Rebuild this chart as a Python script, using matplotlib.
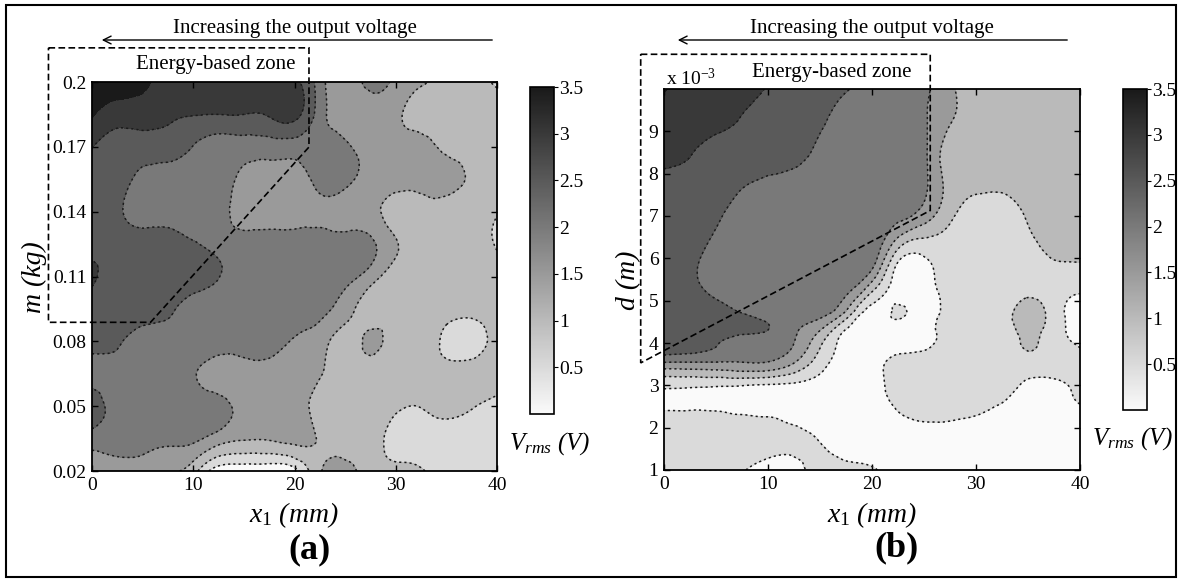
import numpy as np
import matplotlib
matplotlib.use('Agg')
import matplotlib.pyplot as plt
from matplotlib.colors import LinearSegmentedColormap, Normalize
from matplotlib.patches import Polygon, Rectangle
from matplotlib.tri import Triangulation, UniformTriRefiner, CubicTriInterpolator
import matplotlib.cm as cm

plt.rcParams['font.family'] = ['Liberation Serif', 'DejaVu Serif']
plt.rcParams['mathtext.fontset'] = 'custom'
plt.rcParams['mathtext.rm'] = 'Liberation Serif'
plt.rcParams['mathtext.it'] = 'Liberation Serif:italic'
plt.rcParams['mathtext.bf'] = 'Liberation Serif:bold'

W, H = 1178, 579

# panel (a): V_rms over x1 (mm) and m (kg), rows from top (m=0.2) to bottom
x1_a = [0, 2.5, 5, 7.5, 10, 12.5, 15, 17.5, 20, 22.5, 25, 27.5, 30, 32.5, 35, 37.5, 40]
m_a = [0.2, 0.185, 0.17, 0.155, 0.14, 0.125, 0.11, 0.095, 0.08, 0.065, 0.05, 0.035, 0.02]
vrms_a = [
    [3.75, 3.75, 3.6, 3.25, 3.25, 3.25, 3.25, 3.2, 3.1, 2.25, 1.6, 2.2, 1.85, 1.6, 1.25, 1.25, 0.9],
    [3.55, 3.25, 3.25, 3.1, 3.02, 3.0, 3.0, 3.05, 3.15, 2.25, 1.75, 1.75, 1.6, 1.25, 1.25, 1.25, 1.25],
    [3.02, 2.75, 2.75, 2.75, 2.48, 2.25, 2.25, 2.25, 2.25, 2.25, 2.1, 1.75, 1.75, 1.75, 1.35, 1.25, 1.25],
    [2.75, 2.7, 2.35, 2.25, 2.25, 2.25, 1.85, 1.75, 1.75, 2.2, 2.2, 1.75, 1.75, 1.75, 1.75, 1.4, 1.25],
    [2.75, 2.6, 2.25, 2.25, 2.25, 2.25, 1.7, 1.7, 1.7, 1.85, 1.7, 1.65, 1.25, 1.25, 1.2, 1.25, 1.05],
    [2.75, 2.75, 2.75, 2.75, 2.55, 2.35, 2.25, 2.25, 2.25, 2.25, 2.25, 2.1, 1.55, 1.25, 1.25, 1.25, 0.95],
    [3.1, 2.75, 2.75, 2.75, 2.75, 2.52, 2.25, 2.25, 2.25, 2.25, 2.15, 1.75, 1.25, 1.25, 1.25, 1.25, 1.25],
    [2.75, 2.75, 2.75, 2.6, 2.3, 2.25, 2.25, 2.25, 2.25, 2.1, 1.75, 1.25, 1.25, 1.25, 1.2, 1.15, 1.25],
    [2.75, 2.6, 2.25, 2.25, 2.25, 2.25, 2.25, 2.25, 1.95, 1.75, 1.25, 1.6, 1.25, 1.25, 0.85, 0.75, 1.25],
    [2.25, 2.25, 2.25, 2.25, 2.05, 1.75, 1.75, 1.75, 1.75, 1.55, 1.25, 1.25, 1.25, 1.25, 1.25, 1.25, 1.25],
    [2.8, 2.3, 2.25, 2.25, 2.25, 2.2, 1.8, 1.75, 1.75, 1.3, 1.25, 1.25, 1.1, 1.02, 1.2, 1.05, 0.85],
    [2.25, 2.25, 2.2, 2.1, 2.1, 1.75, 1.55, 1.55, 1.65, 1.45, 1.25, 1.2, 0.8, 0.75, 0.75, 0.75, 0.8],
    [1.75, 1.75, 1.75, 1.55, 1.2, 0.2, 0.15, 0.1, 0.3, 1.45, 1.7, 1.25, 1.2, 1.05, 0.75, 0.75, 0.75],
]

# panel (b): V_rms over x1 (mm) and d (x 1e-3 m), rows from top (d=10) to bottom
x1_b = [0, 2.5, 5, 7.5, 10, 12.5, 15, 17.5, 20, 22.5, 25, 27.5, 30, 32.5, 35, 37.5, 40]
d_b = [10, 9.25, 8.5, 7.75, 7.0, 6.25, 5.5, 4.75, 4.35, 4.0, 3.5, 3.0, 2.5, 1.75, 1.0]
vrms_b = [
    [3.55, 3.25, 3.25, 3.25, 2.95, 2.75, 2.75, 2.55, 2.25, 2.25, 2.1, 1.6, 1.25, 1.25, 1.25, 1.25, 1.25],
    [3.25, 3.25, 3.2, 2.95, 2.75, 2.75, 2.6, 2.25, 2.25, 2.25, 2.05, 1.55, 1.25, 1.25, 1.25, 1.25, 1.25],
    [3.25, 3.05, 2.75, 2.75, 2.75, 2.75, 2.35, 2.25, 2.25, 2.25, 2.1, 1.2, 1.25, 1.25, 1.25, 1.25, 1.25],
    [2.75, 2.75, 2.75, 2.55, 2.4, 2.25, 2.25, 2.25, 2.25, 2.25, 2.1, 1.3, 1.1, 1.1, 1.25, 1.25, 1.25],
    [2.75, 2.75, 2.6, 2.25, 2.25, 2.25, 2.25, 2.25, 2.25, 2.15, 1.75, 1.1, 0.8, 0.75, 1.05, 1.25, 1.25],
    [2.75, 2.7, 2.35, 2.25, 2.25, 2.25, 2.25, 2.25, 2.35, 1.05, 0.7, 0.75, 0.75, 0.75, 0.85, 1.15, 1.15],
    [2.75, 2.6, 2.3, 2.25, 2.25, 2.25, 2.25, 2.25, 1.6, 0.25, 0.25, 0.75, 0.75, 0.75, 0.75, 0.75, 0.75],
    [2.75, 2.75, 2.65, 2.45, 2.25, 2.25, 2.2, 1.5, 0.3, 0.56, 0.25, 0.75, 0.75, 0.75, 1.2, 0.75, 0.3],
    [2.75, 2.75, 2.75, 2.7, 2.52, 2.1, 1.6, 0.55, 0.25, 0.25, 0.3, 0.75, 0.75, 0.75, 1.15, 0.75, 0.3],
    [2.95, 2.8, 2.55, 2.25, 2.25, 2.0, 1.1, 0.3, 0.25, 0.25, 0.35, 0.75, 0.75, 0.75, 1.05, 0.75, 0.45],
    [1.86, 1.86, 1.88, 1.92, 1.9, 1.45, 0.7, 0.25, 0.3, 0.7, 0.75, 0.75, 0.75, 0.75, 0.8, 0.75, 0.6],
    [0.6, 0.58, 0.55, 0.52, 0.45, 0.4, 0.3, 0.25, 0.25, 0.75, 0.75, 0.75, 0.75, 0.7, 0.4, 0.4, 0.6],
    [0.45, 0.45, 0.43, 0.35, 0.3, 0.25, 0.25, 0.25, 0.25, 0.55, 0.7, 0.7, 0.6, 0.45, 0.3, 0.35, 0.48],
    [0.75, 0.75, 0.75, 0.75, 0.7, 0.6, 0.47, 0.25, 0.25, 0.25, 0.25, 0.25, 0.25, 0.25, 0.25, 0.25, 0.25],
    [0.75, 0.75, 0.75, 0.55, 0.25, 0.3, 0.7, 0.65, 0.55, 0.3, 0.25, 0.25, 0.25, 0.25, 0.25, 0.25, 0.25],
]

m_ticks = [0.02, 0.05, 0.08, 0.11, 0.14, 0.17, 0.2]
m_ticklabels = ['0.02', '0.05', '0.08', '0.11', '0.14', '0.17', '0.2']
d_ticks = [1, 2, 3, 4, 5, 6, 7, 8, 9]
x_ticks = [0, 10, 20, 30, 40]
cb_ticks = [0.5, 1, 1.5, 2, 2.5, 3, 3.5]
cb_ticklabels = ['0.5', '1', '1.5', '2', '2.5', '3', '3.5']
levels = [0, 0.5, 1.0, 1.5, 2.0, 2.5, 3.0, 3.5, 4.0]


def fx(px):
    return px / W


def fy(py):
    return 1 - py / H


def rect(l, t, r, b):
    return [fx(l), fy(b), (r - l) / W, (b - t) / H]


cmap = LinearSegmentedColormap.from_list('vgray', [(0.98, 0.98, 0.98), (0.1, 0.1, 0.1)])
norm = Normalize(0, 3.5)
fill_colors = [cmap(norm(lv)) for lv in levels[:-1]]
fill_levels = [-5] + levels[1:-1] + [9]


def grid_tri(xs, ys, zs):
    # triangulate the grid in index space, let matplotlib smooth it, map back
    Z = np.array(zs, dtype=float)
    ny, nx = Z.shape
    I, J = np.meshgrid(np.arange(nx, dtype=float), np.arange(ny, dtype=float))
    tris = []
    for j in range(ny - 1):
        for i in range(nx - 1):
            p = j * nx + i
            tris.append([p, p + 1, p + nx])
            tris.append([p + 1, p + nx + 1, p + nx])
    tri = Triangulation(I.ravel(), J.ravel(), tris)
    interp = CubicTriInterpolator(tri, Z.ravel(), kind='min_E')
    tri_f, z_f = UniformTriRefiner(tri).refine_field(Z.ravel(), triinterpolator=interp, subdiv=3)
    xf = np.interp(tri_f.x, np.arange(nx), xs)
    yf = np.interp(tri_f.y, np.arange(ny), ys)
    return Triangulation(xf, yf, tri_f.triangles), z_f


def draw_panel(ax, xs, ys, zs):
    tri, z = grid_tri(xs, ys, zs)
    ax.tricontourf(tri, z, levels=fill_levels, colors=fill_colors)
    cs = ax.tricontour(tri, z, levels=levels[1:-1], colors='#1a1a1a', linewidths=1.1)
    cs.set_linestyle((0, (1.4, 2.0)))
    ax.tick_params(direction='in', length=4, width=1, top=True, right=True,
                   labelsize=14, pad=4)
    for s in ax.spines.values():
        s.set_linewidth(1.3)
    ax.set_xticks(x_ticks)
    ax.set_xlim(0, 40)


fig = plt.figure(figsize=(W / 100, H / 100), dpi=100)

# ---- panel (a)
ax_a = fig.add_axes(rect(92, 82, 497, 471))
draw_panel(ax_a, x1_a, m_a, vrms_a)
ax_a.set_ylim(0.02, 0.2)
ax_a.set_yticks(m_ticks)
ax_a.set_yticklabels(m_ticklabels)
box_a = [(-4.3, 0.2158), (21.43, 0.2158), (21.43, 0.1699), (5.78, 0.0888), (-4.3, 0.0888)]
ax_a.add_patch(Polygon(box_a, closed=True, fill=False, ec='k', lw=1.2,
                       ls=(0, (4, 2)), clip_on=False))

# ---- panel (b)
ax_b = fig.add_axes(rect(664, 89, 1080, 470))
draw_panel(ax_b, x1_b, d_b, vrms_b)
ax_b.set_ylim(1, 10)
ax_b.set_yticks(d_ticks)
box_b = [(-2.24, 10.82), (25.6, 10.82), (25.6, 7.13), (-2.24, 3.53)]
ax_b.add_patch(Polygon(box_b, closed=True, fill=False, ec='k', lw=1.2,
                       ls=(0, (4, 2)), clip_on=False))

# ---- colorbars
sm = cm.ScalarMappable(norm=norm, cmap=cmap)
for r in [rect(530, 87, 554, 414), rect(1123, 89, 1147, 410)]:
    cax = fig.add_axes(r)
    cb = fig.colorbar(sm, cax=cax)
    cb.set_ticks(cb_ticks)
    cb.ax.set_yticklabels(cb_ticklabels)
    cb.ax.tick_params(labelsize=14, direction='out', length=3, pad=1)
    cb.outline.set_linewidth(1.2)

# ---- texts and arrows
for cx, l, r in [(295, 99, 495), (872, 675, 1070)]:
    fig.text(fx(cx), fy(28), 'Increasing the output voltage', fontsize=15,
             ha='center', va='center')
    ax_a.annotate('', xy=(fx(l), fy(40)), xytext=(fx(r), fy(40)),
                  xycoords='figure fraction', textcoords='figure fraction',
                  arrowprops=dict(arrowstyle='->', lw=1.0, color='k', mutation_scale=14),
                  annotation_clip=False)

fig.text(fx(216), fy(64), 'Energy-based zone', fontsize=15, ha='center', va='center')
fig.text(fx(832), fy(73), 'Energy-based zone', fontsize=15, ha='center', va='center')
fig.text(fx(666), fy(78), r'x 10$^{-3}$', fontsize=14, ha='left', va='center')

fig.text(fx(34), fy(277), 'm (kg)', fontsize=20, style='italic', rotation=90,
         ha='center', va='center')
fig.text(fx(629), fy(280), 'd (m)', fontsize=20, style='italic', rotation=90,
         ha='center', va='center')
fig.text(fx(294), fy(515), r'$x_1$ (mm)', fontsize=20, style='italic',
         ha='center', va='center')
fig.text(fx(872), fy(515), r'$x_1$ (mm)', fontsize=20, style='italic',
         ha='center', va='center')

fig.text(fx(550), fy(450), r'$V_{rms}$ (V)', fontsize=18, style='italic',
         ha='center', va='baseline')
fig.text(fx(1133), fy(445), r'$V_{rms}$ (V)', fontsize=18, style='italic',
         ha='center', va='baseline')

fig.text(fx(309), fy(550), '(a)', fontsize=26, weight='bold', ha='center', va='center')
fig.text(fx(896), fy(548), '(b)', fontsize=26, weight='bold', ha='center', va='center')

fig.add_artist(Rectangle((fx(6), fy(577)), (1176 - 6) / W, (577 - 5) / H,
                         transform=fig.transFigure, fill=False, ec='k', lw=1.5))

fig.savefig('out.png', dpi=100)
